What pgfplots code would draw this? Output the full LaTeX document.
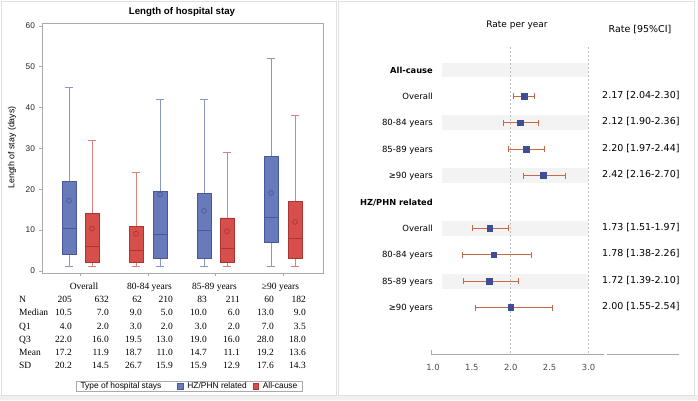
\documentclass[border=0pt]{standalone}
\usepackage{pgfplots}
\pgfplotsset{compat=1.18}
\usepackage{fontspec}
\setmainfont{Liberation Serif}
\setsansfont{Liberation Sans}
\newfontfamily\dv{DejaVu Sans}
\definecolor{hzfill}{RGB}{104,122,186}
\definecolor{hzdraw}{RGB}{72,88,155}
\definecolor{hzwhisk}{RGB}{136,150,200}
\definecolor{acfill}{RGB}{214,79,75}
\definecolor{acdraw}{RGB}{172,52,50}
\definecolor{acwhisk}{RGB}{220,128,124}
\definecolor{axgray}{RGB}{170,170,170}
\definecolor{panel}{RGB}{224,224,224}
\definecolor{band}{RGB}{243,243,243}
\definecolor{fpmark}{RGB}{60,78,150}
\definecolor{fperr}{RGB}{200,104,72}
% box plot from prepared statistics: #1 fill, #2 edge, #3 whisker colour,
% #4 position, #5 lower whisker, #6 Q1, #7 median, #8 Q3, #9 upper whisker
\newcommand{\bx}[9]{%
  \pgfmathsetmacro\bxL{#4-7}\pgfmathsetmacro\bxR{#4+7}%
  \pgfmathsetmacro\bxCL{#4-4}\pgfmathsetmacro\bxCR{#4+4}%
  \addplot[forget plot, #3, line width=0.9pt] coordinates {(#4,#6) (#4,#5)};
  \addplot[forget plot, #3, line width=0.9pt] coordinates {(\bxCL,#5) (\bxCR,#5)};
  \addplot[forget plot, #3, line width=0.9pt] coordinates {(#4,#8) (#4,#9)};
  \addplot[forget plot, #3, line width=0.9pt] coordinates {(\bxCL,#9) (\bxCR,#9)};
  \addplot[forget plot, fill=#1, draw=#2, line width=0.7pt] coordinates {(\bxL,#6) (\bxR,#6) (\bxR,#8) (\bxL,#8) (\bxL,#6)};
  \addplot[forget plot, #2, line width=0.9pt] coordinates {(\bxL,#7) (\bxR,#7)};
}
\newcommand{\tf}{\fontsize{9.5}{11}\selectfont}
\newcommand{\lf}{\dv\fontsize{8.5}{10}\selectfont}
\newcommand{\lfb}{\dv\bfseries\fontsize{8.3}{10}\selectfont}
\newcommand{\rf}{\dv\fontsize{9.5}{11}\selectfont}
\begin{document}
\begin{tikzpicture}
\path[use as bounding box] (0pt,0pt) rectangle (698pt,-400pt);
\fill[white] (0pt,0pt) rectangle (698pt,-400pt);
\fill[gray!12] (0pt,-395pt) rectangle (698pt,-400pt);
\draw[panel, line width=1pt] (1pt,-1pt) rectangle (336pt,-395pt);
\draw[panel, line width=1pt] (338pt,-1pt) rectangle (694pt,-395pt);

% ---------------- left panel: box plots ----------------
\begin{axis}[
  at={(42pt,-23pt)}, anchor=north west, scale only axis,
  width=281pt, height=250pt,
  xmin=42, xmax=323, ymin=-0.5, ymax=60.7,
  axis line style={axgray},
  xtick={80.5,148,215.5,283}, xticklabels={},
  ytick={0,10,20,30,40,50,60},
  tick align=outside, tick pos=left, major tick length=3pt,
  tick style={axgray, line width=0.6pt},
  yticklabel style={font=\sffamily\fontsize{8.3}{9}\selectfont, text=black!85, xshift=-0.5pt},
  /pgf/number format/assume math mode=true,
  clip=false,
  legend style={at={(0.523,-0.452)}, anchor=center, legend columns=3, draw=axgray,
    font=\sffamily\fontsize{8.4}{9}\selectfont, inner xsep=0.5pt, inner ysep=0.5pt,
    nodes={inner xsep=4pt, inner ysep=1pt},
    /tikz/column 2/.style={column sep=12pt}, /tikz/column 4/.style={column sep=2pt}},
  legend cell align=left,
]
\addlegendimage{empty legend}
\addlegendentry{Type of hospital stays}
\addlegendimage{legend image code/.code={\draw[fill=hzfill, draw=hzdraw] (0pt,-2.9pt) rectangle (5.7pt,2.9pt);}}
\addlegendentry{HZ/PHN related}
\addlegendimage{legend image code/.code={\draw[fill=acfill, draw=acdraw] (0pt,-2.9pt) rectangle (5.7pt,2.9pt);}}
\addlegendentry{All-cause}

% Overall
\bx{hzfill}{hzdraw}{hzwhisk}{69}{1}{4}{10.5}{22}{45}
\bx{acfill}{acdraw}{acwhisk}{92}{1}{2}{6}{14}{32}
% 80-84 years
\bx{acfill}{acdraw}{acwhisk}{136}{1}{2}{5}{11}{24}
\bx{hzfill}{hzdraw}{hzwhisk}{160}{1}{3}{9}{19.5}{42}
% 85-89 years
\bx{hzfill}{hzdraw}{hzwhisk}{204}{1}{3}{10}{19}{42}
\bx{acfill}{acdraw}{acwhisk}{227}{1}{2}{5.5}{13}{29}
% >=90 years
\bx{hzfill}{hzdraw}{hzwhisk}{271}{1}{7}{13}{28}{52}
\bx{acfill}{acdraw}{acwhisk}{295}{1}{3}{8}{17}{38}
% means
\addplot[forget plot, only marks, mark=o, mark size=2.4pt, mark options={draw=hzdraw, line width=0.7pt}]
  coordinates {(69,17.2) (160,18.7) (204,14.7) (271,19.1)};
\addplot[forget plot, only marks, mark=o, mark size=2.4pt, mark options={draw=acdraw, line width=0.7pt}]
  coordinates {(92,10.4) (136,9.1) (227,9.7) (295,12.0)};
\end{axis}

\node[font=\sffamily\bfseries\fontsize{9.7}{11}\selectfont] at (182pt,-12.3pt) {Length of hospital stay};
\node[rotate=90, font=\sffamily\fontsize{8.8}{10}\selectfont] at (12pt,-147.5pt) {Length of stay (days)};

% table under the box plots
\begin{scope}[font=\tf]
\node[anchor=base] at (84pt,-289.2pt) {Overall};
\node[anchor=base] at (149.5pt,-289.2pt) {80-84 years};
\node[anchor=base] at (214.5pt,-289.2pt) {85-89 years};
\node[anchor=base] at (280.5pt,-289.2pt) {≥90 years};
\node[anchor=base west, inner xsep=0pt] at (19pt,-302.2pt) {N};
\node[anchor=base west, inner xsep=0pt] at (19pt,-315.9pt) {Median};
\node[anchor=base west, inner xsep=0pt] at (19pt,-329.2pt) {Q1};
\node[anchor=base west, inner xsep=0pt] at (19pt,-342.5pt) {Q3};
\node[anchor=base west, inner xsep=0pt] at (19pt,-355.9pt) {Mean};
\node[anchor=base west, inner xsep=0pt] at (19pt,-368.9pt) {SD};
\foreach \x/\v in {72/205,109/632,142/62,173/210,207/83,240/211,274/60,306/182}
  \node[anchor=base east, inner xsep=0pt] at (\x pt,-302.2pt) {\v};
\foreach \x/\v in {72/10.5,109/7.0,142/9.0,173/5.0,207/10.0,240/6.0,274/13.0,306/9.0}
  \node[anchor=base east, inner xsep=0pt] at (\x pt,-315.9pt) {\v};
\foreach \x/\v in {72/4.0,109/2.0,142/3.0,173/2.0,207/3.0,240/2.0,274/7.0,306/3.5}
  \node[anchor=base east, inner xsep=0pt] at (\x pt,-329.2pt) {\v};
\foreach \x/\v in {72/22.0,109/16.0,142/19.5,173/13.0,207/19.0,240/16.0,274/28.0,306/18.0}
  \node[anchor=base east, inner xsep=0pt] at (\x pt,-342.5pt) {\v};
\foreach \x/\v in {72/17.2,109/11.9,142/18.7,173/11.0,207/14.7,240/11.1,274/19.2,306/13.6}
  \node[anchor=base east, inner xsep=0pt] at (\x pt,-355.9pt) {\v};
\foreach \x/\v in {72/20.2,109/14.5,142/26.7,173/15.9,207/15.9,240/12.9,274/17.6,306/14.3}
  \node[anchor=base east, inner xsep=0pt] at (\x pt,-368.9pt) {\v};
\end{scope}

% ---------------- right panel: forest plot ----------------
\begin{axis}[
  at={(431pt,-47pt)}, anchor=north west, scale only axis,
  width=173pt, height=307pt,
  xmin=0.974, xmax=3.2, ymin=-11.76, ymax=-0.129,
  axis x line*=bottom, axis y line=none,
  x axis line style={axgray, -},
  xtick={1,1.5,2,2.5,3},
  major tick length=0pt,
  xticklabel style={font=\dv\fontsize{8.4}{9}\selectfont, text=black!70, yshift=-7pt},
  /pgf/number format/fixed, /pgf/number format/fixed zerofill, /pgf/number format/precision=1,
  /pgf/number format/assume math mode=true,
  clip=false,
]
\fill[band] (axis cs:1.112,-1.28) rectangle (axis cs:3,-0.72);
\fill[band] (axis cs:1.112,-3.28) rectangle (axis cs:3,-2.72);
\fill[band] (axis cs:1.112,-5.28) rectangle (axis cs:3,-4.72);
\fill[band] (axis cs:1.112,-7.28) rectangle (axis cs:3,-6.72);
\fill[band] (axis cs:1.112,-9.28) rectangle (axis cs:3,-8.72);
\draw[gray!50, line width=0.6pt, dash pattern=on 2pt off 2pt] (axis cs:2,-0.129) -- (axis cs:2,-11.76);
\draw[gray!50, line width=0.6pt, dash pattern=on 2pt off 2pt] (axis cs:3,-0.129) -- (axis cs:3,-11.76);
\draw[axgray, line width=0.6pt] (axis cs:0.974,-11.76) -- ++(0pt,4pt);
% 95% confidence intervals
\pgfplotsset{ci/.style={fperr, line width=0.9pt, mark=|, mark size=3pt, mark options={solid, fperr, line width=0.9pt}}}
\addplot[ci] coordinates {(2.04,-2) (2.30,-2)};
\addplot[ci] coordinates {(1.90,-3) (2.36,-3)};
\addplot[ci] coordinates {(1.97,-4) (2.44,-4)};
\addplot[ci] coordinates {(2.16,-5) (2.70,-5)};
\addplot[ci] coordinates {(1.51,-7) (1.97,-7)};
\addplot[ci] coordinates {(1.38,-8) (2.26,-8)};
\addplot[ci] coordinates {(1.39,-9) (2.10,-9)};
\addplot[ci] coordinates {(1.55,-10) (2.54,-10)};
% rates
\addplot[only marks, mark=square*, mark size=2.9pt, mark options={fill=fpmark, draw=fpmark}]
  coordinates {(2.17,-2) (2.12,-3) (2.20,-4) (2.42,-5) (1.73,-7) (1.78,-8) (1.72,-9) (2.00,-10)};
\end{axis}

\draw[axgray, line width=0.6pt] (607pt,-354pt) -- (679pt,-354pt);
\node[font=\dv\fontsize{9}{10}\selectfont] at (517pt,-25pt) {Rate per year};
\node[font=\rf] at (640pt,-30pt) {Rate [95\%CI]};

\node[anchor=base east, inner xsep=0pt, font=\lfb] at (433pt,-73.1pt) {All-cause};
\node[anchor=base east, inner xsep=0pt, font=\lf] at (433pt,-99.5pt) {Overall};
\node[anchor=base east, inner xsep=0pt, font=\lf] at (433pt,-125.9pt) {80-84 years};
\node[anchor=base east, inner xsep=0pt, font=\lf] at (433pt,-152.3pt) {85-89 years};
\node[anchor=base east, inner xsep=0pt, font=\lf] at (433pt,-178.7pt) {≥90 years};
\node[anchor=base east, inner xsep=0pt, font=\lfb] at (433pt,-205.1pt) {HZ/PHN related};
\node[anchor=base east, inner xsep=0pt, font=\lf] at (433pt,-231.5pt) {Overall};
\node[anchor=base east, inner xsep=0pt, font=\lf] at (433pt,-257.9pt) {80-84 years};
\node[anchor=base east, inner xsep=0pt, font=\lf] at (433pt,-284.3pt) {85-89 years};
\node[anchor=base east, inner xsep=0pt, font=\lf] at (433pt,-310.7pt) {≥90 years};

\begin{scope}[every node/.style={anchor=base west, inner xsep=0pt, font=\rf}]
\node at (602pt,-98.4pt) {2.17 [2.04-2.30]};
\node at (602pt,-124.8pt) {2.12 [1.90-2.36]};
\node at (602pt,-151.2pt) {2.20 [1.97-2.44]};
\node at (602pt,-177.6pt) {2.42 [2.16-2.70]};
\node at (602pt,-230.4pt) {1.73 [1.51-1.97]};
\node at (602pt,-256.8pt) {1.78 [1.38-2.26]};
\node at (602pt,-283.2pt) {1.72 [1.39-2.10]};
\node at (602pt,-309.6pt) {2.00 [1.55-2.54]};
\end{scope}
\end{tikzpicture}
\end{document}
